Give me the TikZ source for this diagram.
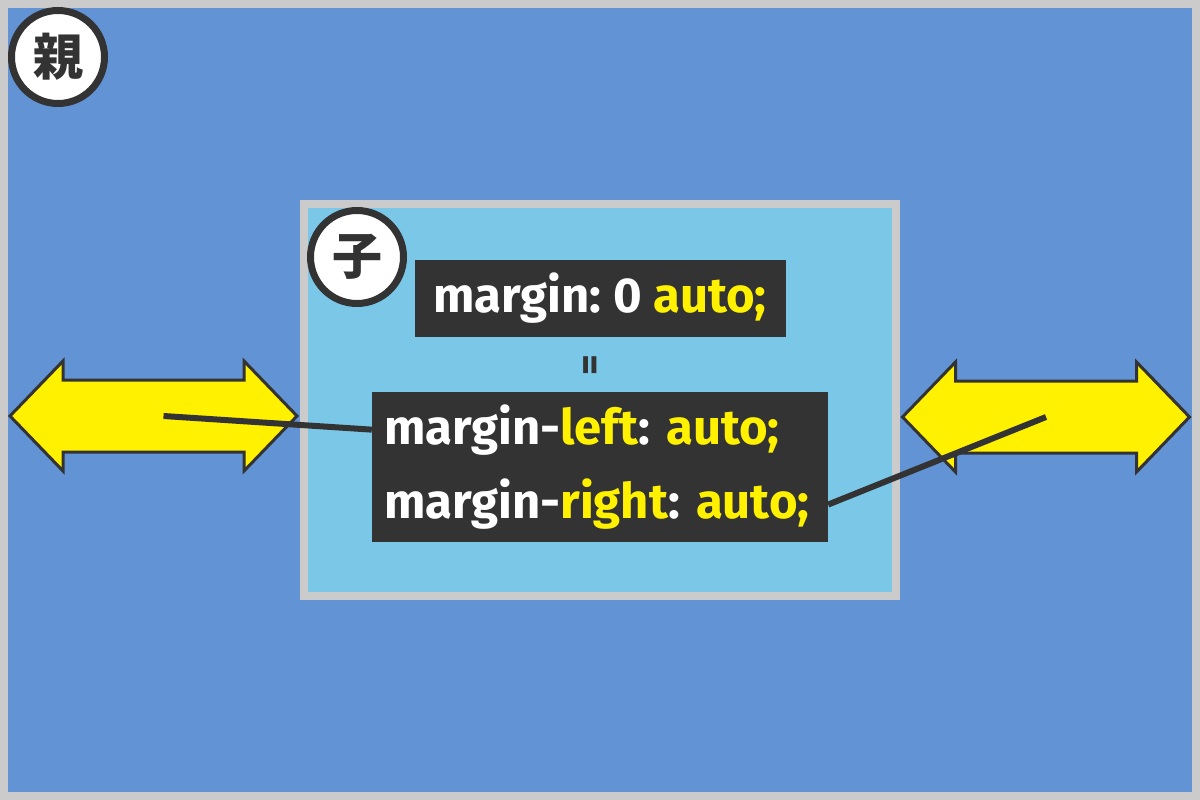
\documentclass[tikz,border=0pt]{standalone}
\usepackage{fontspec}
\setmainfont{Fira Sans}
\newfontfamily\cjk{Noto Sans CJK JP}
\usetikzlibrary{positioning,calc}
\definecolor{framegray}{HTML}{CBCBCB}
\definecolor{parentblue}{HTML}{6293D4}
\definecolor{childblue}{HTML}{7AC7E8}
\definecolor{inkdark}{HTML}{333333}
\definecolor{markyellow}{HTML}{FFF100}
\newcommand{\ylw}[1]{\textcolor{markyellow}{#1}}
\frenchspacing

\begin{document}
\begin{tikzpicture}[
  x=1pt, y=-1pt,
  font=\bfseries\fontsize{49}{56}\selectfont,
  frame/.style={draw=framegray, line width=8pt, inner sep=0pt},
  badge/.style={circle, draw=inkdark, line width=7pt, fill=white, minimum size=93pt, inner sep=0pt, text=inkdark, font=\cjk\bfseries\fontsize{50}{50}\selectfont},
  codebox/.style={fill=inkdark, text=white, inner sep=0pt},
  codeline/.style={codebox, minimum width=456pt, minimum height=74.5pt, text width=432pt, inner xsep=12pt, align=left},
  yarrow/.style={fill=markyellow, draw=inkdark, line width=3pt, line join=miter},
  lead/.style={draw=inkdark, line width=6pt}
]
\useasboundingbox (0,0) rectangle (1200,800);
\node[frame, fill=parentblue, minimum width=1192pt, minimum height=792pt] (parent) at (600,400) {};
\node[frame, fill=childblue, minimum width=592pt, minimum height=392pt] (child) at (600,400) {};
\node[badge] (oya) at (58,57) {親};
\node[badge] (ko) at (357,257) {子};
\foreach \cx/\cy/\nm in {153.5/416/larr, 1046/417/rarr}{
  \coordinate (\nm) at (\cx,\cy);
  \draw[yarrow] (\cx-143.5,\cy) -- (\cx-90.5,\cy-55) -- (\cx-90.5,\cy-36) -- (\cx+90.5,\cy-36)
    -- (\cx+90.5,\cy-55) -- (\cx+143.5,\cy) -- (\cx+90.5,\cy+55) -- (\cx+90.5,\cy+36)
    -- (\cx-90.5,\cy+36) -- (\cx-90.5,\cy+55) -- cycle;
}
\node[codebox, minimum width=371pt, minimum height=77pt] (shorthand) at (600,298.5) {margin: 0 \ylw{auto;}};
\node[codeline, below=55pt of shorthand] (mleft) {margin-\ylw{left}: \ylw{auto;}};
\node[codeline, below=0pt of mleft] (mright) {margin-\ylw{right}: \ylw{auto;}};
\node[rotate=90, text=inkdark, font=\bfseries\fontsize{40}{40}\selectfont, inner sep=0pt] (eq) at ($(shorthand.south)!0.5!(mleft.north)+(-6,0)$) {=};
\draw[lead] ([xshift=10pt]larr) -- (mleft.west);
\draw[lead] (rarr) -- (mright.east);
\end{tikzpicture}
\end{document}
